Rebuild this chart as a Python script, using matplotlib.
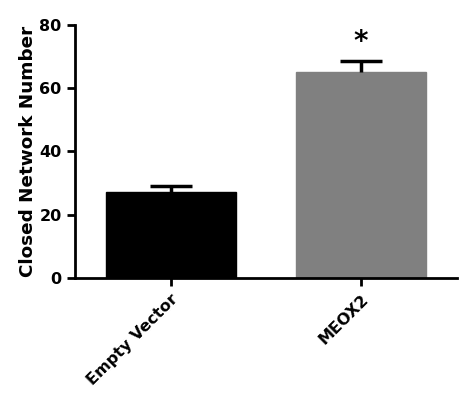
import numpy as np
import matplotlib.pyplot as plt

plt.rcParams['font.family'] = ['DejaVu Sans']
plt.rcParams['font.weight'] = 'bold'

# dados
grupos = ['Empty Vector', 'MEOX2']
medias = [27.1, 65.1]
erros = [1.9, 3.5]
cores = ['#000000', '#808080']
sig = ['', '*']

fig = plt.figure(figsize=(4.59, 3.95), dpi=100)
ax = fig.add_axes([0.163, 0.296, 0.833, 0.641])

x = np.arange(len(grupos))
ax.bar(x, medias, width=0.684, color=cores, edgecolor=cores, zorder=2)
eb = ax.errorbar(x, medias, yerr=[np.zeros(len(erros)), erros], fmt='none',
                 ecolor='black', elinewidth=2.5, capsize=15, capthick=2.5, zorder=3)
eb[1][0].set_visible(False)  # sem cap inferior
for xi, m, e, s in zip(x, medias, erros, sig):
    if s:
        ax.text(xi, m + e + 6, s, ha='center', va='center', fontsize=20, fontweight='bold')

ax.set_xlim(-0.504, 1.507)
ax.set_ylim(0, 80)
ax.set_yticks([0, 20, 40, 60, 80])
ax.set_xticks(x)
ax.set_xticklabels(grupos, rotation=45, ha='right', rotation_mode='anchor', fontsize=11.5)
ax.set_ylabel('Closed Network Number', fontsize=13.2, fontweight='bold', labelpad=2)
ax.tick_params(axis='both', labelsize=11.5, width=2, length=6)
for lado in ['top', 'right']:
    ax.spines[lado].set_visible(False)
for lado in ['left', 'bottom']:
    ax.spines[lado].set_linewidth(2)

fig.savefig('out.png', dpi=100)
